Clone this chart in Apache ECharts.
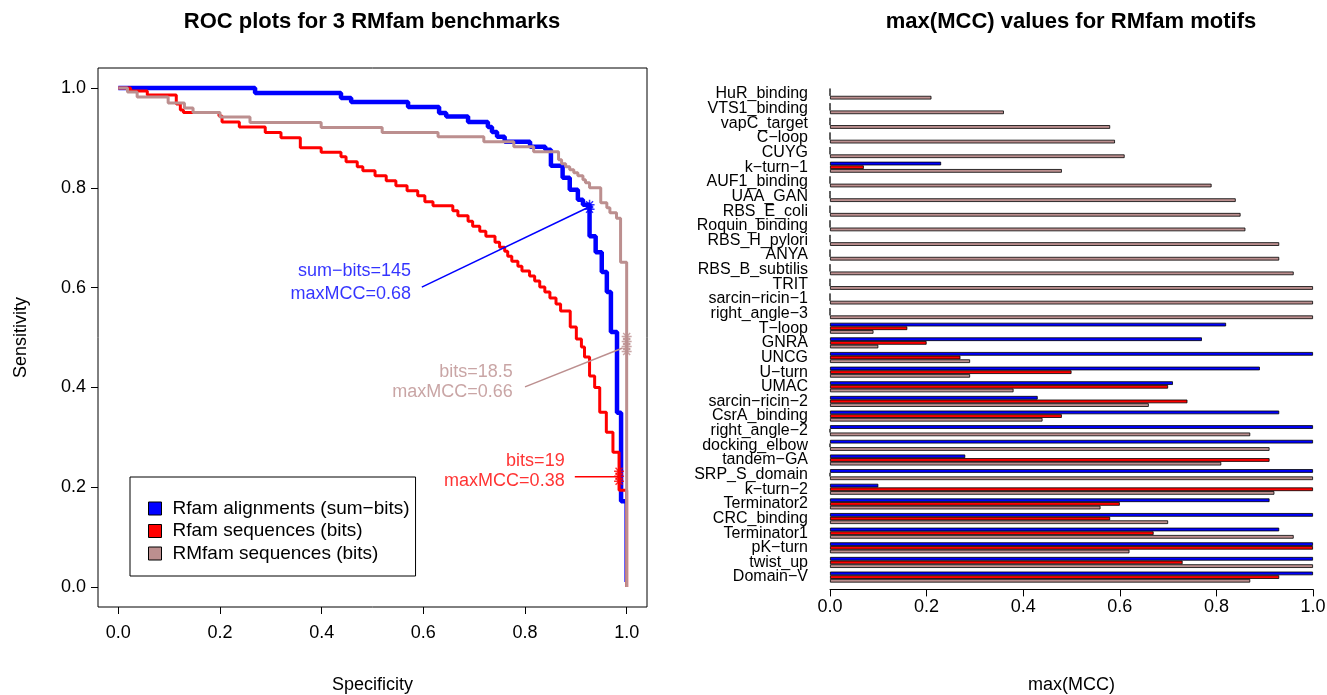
<!DOCTYPE html>
<html><head><meta charset="utf-8">
<script src="https://cdn.jsdelivr.net/npm/echarts@6/dist/echarts.min.js"></script>
<style>html,body{margin:0;padding:0;background:#fff}#c{width:1327px;height:695px}</style>
</head><body><div id="c"></div>
<script>
const FONT = '"Liberation Sans", Arial, Helvetica, sans-serif';

// ---------- ROC data (specificity, sensitivity) ----------
const rocBlue = [[0,1],[0.269,1],[0.269,0.99],[0.438,0.99],[0.438,0.98],[0.458,0.98],[0.458,0.972],[0.57,0.972],[0.57,0.962],[0.631,0.962],[0.631,0.95],[0.645,0.95],[0.645,0.943],[0.688,0.943],[0.688,0.932],[0.727,0.932],[0.727,0.922],[0.735,0.922],[0.735,0.912],[0.745,0.912],[0.745,0.902],[0.76,0.902],[0.76,0.892],[0.81,0.892],[0.81,0.882],[0.84,0.882],[0.84,0.876],[0.851,0.876],[0.851,0.844],[0.874,0.844],[0.874,0.82],[0.888,0.82],[0.888,0.796],[0.904,0.796],[0.904,0.776],[0.914,0.776],[0.914,0.766],[0.927,0.766],[0.927,0.703],[0.939,0.703],[0.939,0.671],[0.951,0.671],[0.951,0.631],[0.961,0.631],[0.961,0.591],[0.969,0.591],[0.969,0.511],[0.981,0.511],[0.981,0.349],[0.989,0.349],[0.989,0.172],[0.997,0.172]];
const rocBlueTail = [[0.997,0.172],[0.997,0.01]];
const rocRed = [[0,1],[0.024,1],[0.024,0.994],[0.057,0.994],[0.057,0.986],[0.114,0.986],[0.114,0.968],[0.122,0.968],[0.122,0.956],[0.128,0.956],[0.128,0.951],[0.198,0.951],[0.198,0.944],[0.204,0.944],[0.204,0.932],[0.238,0.932],[0.238,0.922],[0.289,0.922],[0.289,0.911],[0.320,0.911],[0.320,0.900],[0.358,0.900],[0.358,0.880],[0.399,0.880],[0.399,0.871],[0.438,0.871],[0.438,0.862],[0.448,0.862],[0.448,0.852],[0.470,0.852],[0.470,0.842],[0.481,0.842],[0.481,0.834],[0.505,0.834],[0.505,0.824],[0.527,0.824],[0.527,0.814],[0.546,0.814],[0.546,0.804],[0.568,0.804],[0.568,0.794],[0.589,0.794],[0.589,0.784],[0.603,0.784],[0.603,0.772],[0.619,0.772],[0.619,0.764],[0.658,0.764],[0.658,0.754],[0.668,0.754],[0.668,0.744],[0.688,0.744],[0.688,0.733],[0.697,0.733],[0.697,0.723],[0.711,0.723],[0.711,0.713],[0.723,0.713],[0.723,0.703],[0.741,0.703],[0.741,0.691],[0.750,0.691],[0.750,0.681],[0.760,0.681],[0.760,0.673],[0.766,0.673],[0.766,0.663],[0.774,0.663],[0.774,0.653],[0.786,0.653],[0.786,0.643],[0.794,0.643],[0.794,0.633],[0.809,0.633],[0.809,0.623],[0.819,0.623],[0.819,0.613],[0.829,0.613],[0.829,0.601],[0.839,0.601],[0.839,0.591],[0.849,0.591],[0.849,0.579],[0.861,0.579],[0.861,0.567],[0.870,0.567],[0.870,0.553],[0.889,0.553],[0.889,0.521],[0.901,0.521],[0.901,0.497],[0.911,0.497],[0.911,0.481],[0.917,0.481],[0.917,0.461],[0.927,0.461],[0.927,0.423],[0.937,0.423],[0.937,0.400],[0.947,0.400],[0.947,0.350],[0.960,0.350],[0.960,0.310],[0.973,0.310],[0.973,0.270],[0.985,0.270],[0.985,0.194],[1.0,0.194],[1.0,0]];
const rocBrown = [[0,1],[0.018,1],[0.018,0.992],[0.037,0.992],[0.037,0.982],[0.098,0.982],[0.098,0.970],[0.130,0.970],[0.130,0.960],[0.147,0.960],[0.147,0.951],[0.200,0.951],[0.200,0.942],[0.259,0.942],[0.259,0.931],[0.399,0.931],[0.399,0.921],[0.519,0.921],[0.519,0.911],[0.629,0.911],[0.629,0.902],[0.719,0.902],[0.719,0.892],[0.778,0.892],[0.778,0.882],[0.817,0.882],[0.817,0.872],[0.866,0.872],[0.866,0.856],[0.872,0.856],[0.872,0.848],[0.880,0.848],[0.880,0.842],[0.888,0.842],[0.888,0.836],[0.896,0.836],[0.896,0.830],[0.904,0.830],[0.904,0.824],[0.914,0.824],[0.914,0.816],[0.919,0.816],[0.919,0.810],[0.927,0.810],[0.927,0.800],[0.949,0.800],[0.949,0.770],[0.961,0.770],[0.961,0.760],[0.967,0.760],[0.967,0.750],[0.980,0.750],[0.980,0.739],[0.988,0.739],[0.988,0.651],[1.0,0.651],[1.0,0]];

// optimal-threshold markers
const markBlue = [[0.927,0.766],[0.927,0.757]];
const markRed = [[0.985,0.212],[0.985,0.222],[0.985,0.232]];
const markBrown = [[1.0,0.472],[1.0,0.482],[1.0,0.492],[1.0,0.502]];
// annotation pointer lines: [from, to]
const ptrBlue = [[0.597,0.601],[0.927,0.762]];
const ptrBrown = [[0.80,0.401],[0.992,0.479]];
const ptrRed = [[0.898,0.221],[0.985,0.221]];
// annotation texts: [x(right edge), y, text]
const annBlue = [[0.576,0.633,'sum\u2212bits=145'],[0.576,0.588,'maxMCC=0.68']];
const annBrown = [[0.776,0.431,'bits=18.5'],[0.776,0.391,'maxMCC=0.66']];
const annRed = [[0.878,0.252,'bits=19'],[0.878,0.212,'maxMCC=0.38']];
const rocTicks = [0,0.2,0.4,0.6,0.8,1.0];

// ---------- Bar data (top to bottom) ----------
const motifs = ['HuR_binding','VTS1_binding','vapC_target','C\u2212loop','CUYG','k\u2212turn\u22121','AUF1_binding','UAA_GAN','RBS_E_coli','Roquin_binding','RBS_H_pylori','ANYA','RBS_B_subtilis','TRIT','sarcin\u2212ricin\u22121','right_angle\u22123','T\u2212loop','GNRA','UNCG','U\u2212turn','UMAC','sarcin\u2212ricin\u22122','CsrA_binding','right_angle\u22122','docking_elbow','tandem\u2212GA','SRP_S_domain','k\u2212turn\u22122','Terminator2','CRC_binding','Terminator1','pK\u2212turn','twist_up','Domain\u2212V'];
const mccRfamAln = [0,0,0,0,0,0.23,0,0,0,0,0,0,0,0,0,0,0.82,0.77,1.0,0.89,0.71,0.43,0.93,1.0,1.0,0.28,1.0,0.10,0.91,1.0,0.93,1.0,1.0,1.0];
const mccRfamSeq = [0,0,0,0,0,0.07,0,0,0,0,0,0,0,0,0,0,0.16,0.20,0.27,0.50,0.70,0.74,0.48,0,0,0.91,0,1.0,0.60,0.58,0.67,1.0,0.73,0.93];
const mccRMfamSeq = [0.21,0.36,0.58,0.59,0.61,0.48,0.79,0.84,0.85,0.86,0.93,0.93,0.96,1.0,1.0,1.0,0.09,0.10,0.29,0.29,0.38,0.66,0.44,0.87,0.91,0.81,1.0,0.92,0.56,0.70,0.96,0.62,1.0,0.87];

const BLUE = '#0000FF', RED = '#FF0000', BROWN = '#BC8F8F';
const NAMES = ['Rfam alignments (sum\u2212bits)','Rfam sequences (bits)','RMfam sequences (bits)'];

const star = 'path://M10,0L10,20M0,10L20,10M3,3L17,17M3,17L17,3';
function markerSeries(data, color){
  return {type:'scatter', xAxisIndex:0, yAxisIndex:0, data, symbol:star, symbolSize:10,
    itemStyle:{color:'transparent', borderColor:color, borderWidth:1.5}, z:6, silent:true};
}
function ptrSeries(data, color){
  return {type:'line', xAxisIndex:0, yAxisIndex:0, data, showSymbol:false, symbol:'none',
    lineStyle:{color, width:1.5}, z:5, silent:true};
}
function annSeries(data, color){
  return {type:'scatter', xAxisIndex:0, yAxisIndex:0, symbolSize:0, silent:true, z:7,
    data: data.map(d => ({value:[d[0], d[1]], label:{formatter:d[2]}})),
    label:{show:true, position:'left', distance:0, color, fontSize:18, fontFamily:FONT}};
}

const chart = echarts.init(document.getElementById('c'), null, {renderer:'canvas'});
chart.setOption({
  animation:false,
  backgroundColor:'#fff',
  textStyle:{fontFamily:FONT},
  graphic:[
    {type:'text', x:372, y:22, style:{text:'ROC plots for 3 RMfam benchmarks', font:'bold 22px '+FONT, fill:'#000', textAlign:'center', textVerticalAlign:'middle'}},
    {type:'text', x:1071, y:22, style:{text:'max(MCC) values for RMfam motifs', font:'bold 22px '+FONT, fill:'#000', textAlign:'center', textVerticalAlign:'middle'}}
  ],
  legend:{
    data:NAMES, orient:'vertical', left:130, top:477, icon:'rect', itemWidth:13, itemHeight:13, itemGap:3.5,
    padding:[22,6,13,18], borderColor:'#000', borderWidth:1, backgroundColor:'#fff',
    itemStyle:{borderColor:'#000', borderWidth:1},
    textStyle:{fontSize:19, fontFamily:FONT, color:'#000', padding:[0,0,0,6]},
    selectedMode:false
  },
  grid:[
    {left:98, top:68, width:549, height:539, show:true, borderColor:'#000', borderWidth:1, backgroundColor:'transparent', outerBoundsMode:'none', containLabel:false},
    {left:830, top:86.7, width:483, height:497.7, outerBoundsMode:'none', containLabel:false}
  ],
  xAxis:[
    {type:'value', gridIndex:0, min:-0.04, max:1.04, splitLine:{show:false}, axisLine:{show:false, onZero:false},
     axisTick:{show:true, customValues:rocTicks, length:7, lineStyle:{color:'#000'}},
     axisLabel:{customValues:rocTicks, formatter:v=>v.toFixed(1), fontSize:18, color:'#000', margin:17, fontFamily:FONT},
     name:'Specificity', nameLocation:'middle', nameGap:69, nameTextStyle:{fontSize:18, color:'#000', fontFamily:FONT}},
    {type:'value', gridIndex:1, min:0, max:1, interval:0.2, splitLine:{show:false}, offset:5,
     axisLine:{show:true, onZero:false, lineStyle:{color:'#000'}}, axisTick:{show:true, length:7, lineStyle:{color:'#000'}},
     axisLabel:{formatter:v=>v.toFixed(1), fontSize:18, color:'#000', margin:9, fontFamily:FONT},
     name:'max(MCC)', nameLocation:'middle', nameGap:86.5, nameTextStyle:{fontSize:18, color:'#000', fontFamily:FONT}}
  ],
  yAxis:[
    {type:'value', gridIndex:0, min:-0.04, max:1.04, splitLine:{show:false}, axisLine:{show:false, onZero:false},
     axisTick:{show:true, customValues:rocTicks, length:7, lineStyle:{color:'#000'}},
     axisLabel:{customValues:rocTicks, formatter:v=>v.toFixed(1), fontSize:18, color:'#000', margin:12, fontFamily:FONT},
     name:'Sensitivity', nameLocation:'middle', nameGap:68, nameRotate:90, nameTextStyle:{fontSize:18, color:'#000', fontFamily:FONT}},
    {type:'category', gridIndex:1, data:motifs, inverse:true, axisLine:{show:false}, axisTick:{show:false},
     axisLabel:{interval:0, fontSize:16, color:'#000', margin:22, fontFamily:FONT}}
  ],
  series:[
    {name:NAMES[0], type:'line', xAxisIndex:0, yAxisIndex:0, data:rocBlue, symbol:'none', color:BLUE, lineStyle:{color:BLUE, width:4.5}, z:2},
    {type:'line', xAxisIndex:0, yAxisIndex:0, data:rocBlueTail, symbol:'none', lineStyle:{color:BLUE, width:1.5}, z:2},
    {name:NAMES[1], type:'line', xAxisIndex:0, yAxisIndex:0, data:rocRed, symbol:'none', color:RED, lineStyle:{color:RED, width:3}, z:3},
    {name:NAMES[2], type:'line', xAxisIndex:0, yAxisIndex:0, data:rocBrown, symbol:'none', color:BROWN, lineStyle:{color:BROWN, width:3}, z:4},
    markerSeries(markBlue, BLUE), markerSeries(markRed, RED), markerSeries(markBrown, BROWN),
    ptrSeries(ptrBlue, BLUE), ptrSeries(ptrBrown, BROWN), ptrSeries(ptrRed, RED),
    annSeries(annBlue, BLUE), annSeries(annBrown, BROWN), annSeries(annRed, RED),
    {name:'aln', type:'bar', xAxisIndex:1, yAxisIndex:1, data:mccRfamAln, barGap:'0%', barCategoryGap:'25%', itemStyle:{color:BLUE, borderColor:'#000', borderWidth:0.8}},
    {name:'seq', type:'bar', xAxisIndex:1, yAxisIndex:1, data:mccRfamSeq, barGap:'0%', barCategoryGap:'25%', itemStyle:{color:RED, borderColor:'#000', borderWidth:0.8}},
    {name:'rm', type:'bar', xAxisIndex:1, yAxisIndex:1, data:mccRMfamSeq, barGap:'0%', barCategoryGap:'25%', itemStyle:{color:BROWN, borderColor:'#000', borderWidth:0.8}}
  ]
});
</script></body></html>
